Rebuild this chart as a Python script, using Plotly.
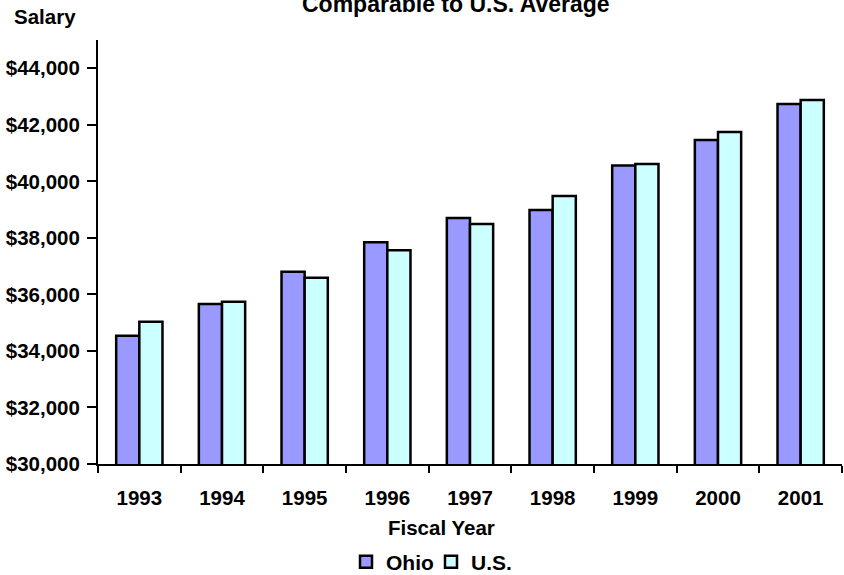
import plotly.graph_objects as go

# Average salary by fiscal year, Ohio vs. U.S.
years = ["1993", "1994", "1995", "1996", "1997", "1998", "1999", "2000", "2001"]
ohio = [34535, 35656, 36798, 37847, 38706, 38989, 40558, 41464, 42736]
us = [35030, 35737, 36586, 37565, 38494, 39484, 40616, 41746, 42877]

FONT = "Liberation Sans, Arial, sans-serif"
W, H = 844, 575
L, R, T, B = 98, 2, 40, 111
PW, PH = W - L - R, H - T - B


def px_x(x):
    return (x - L) / PW


def px_y(y):
    return (H - B - y) / PH


fig = go.Figure()
fig.add_trace(go.Bar(
    x=years, y=ohio, name="Ohio",
    marker=dict(color="#9999FF", line=dict(color="black", width=2.5)),
))
fig.add_trace(go.Bar(
    x=years, y=us, name="U.S.",
    marker=dict(color="#CCFFFF", line=dict(color="black", width=2.5)),
))

axis_font = dict(family=FONT, size=20.5, color="black", weight="bold")

fig.update_layout(
    width=W, height=H,
    margin=dict(l=L, r=R, t=T, b=B, autoexpand=False),
    paper_bgcolor="white", plot_bgcolor="white",
    barmode="group", bargap=0.44, bargroupgap=0,
    font=dict(family=FONT, color="black"),
    xaxis=dict(
        showline=True, linecolor="black", linewidth=2,
        ticks="outside", tickson="boundaries", ticklen=7, tickwidth=2, tickcolor="black",
        tickfont=axis_font, showgrid=False, ticklabelstandoff=14,
    ),
    yaxis=dict(
        range=[30000, 45000], tick0=30000, dtick=2000,
        tickprefix="$", tickformat=",d",
        showline=True, linecolor="black", linewidth=2,
        ticks="outside", ticklen=9, tickwidth=2, tickcolor="black",
        tickfont=axis_font, showgrid=False, zeroline=False, ticklabelstandoff=3,
    ),
    showlegend=True,
    legend=dict(
        orientation="h", x=px_x(431), y=px_y(562), xanchor="center", yanchor="middle",
        font=dict(family=FONT, size=21, color="black", weight="bold"),
        itemwidth=30, entrywidth=40, entrywidthmode="pixels",
        traceorder="normal", bgcolor="rgba(0,0,0,0)",
    ),
    annotations=[
        dict(text="Comparable to U.S. Average", x=px_x(456), y=px_y(4),
             xref="paper", yref="paper", xanchor="center", yanchor="middle",
             showarrow=False, font=dict(family=FONT, size=23, color="black", weight="bold")),
        dict(text="Salary", x=px_x(12), y=px_y(17),
             xref="paper", yref="paper", xanchor="left", yanchor="middle",
             showarrow=False, font=dict(family=FONT, size=20.5, color="black", weight="bold")),
        dict(text="Fiscal Year", x=px_x(441), y=px_y(527),
             xref="paper", yref="paper", xanchor="center", yanchor="middle",
             showarrow=False, font=dict(family=FONT, size=20.5, color="black", weight="bold")),
    ],
)

fig.write_html("out.html")
